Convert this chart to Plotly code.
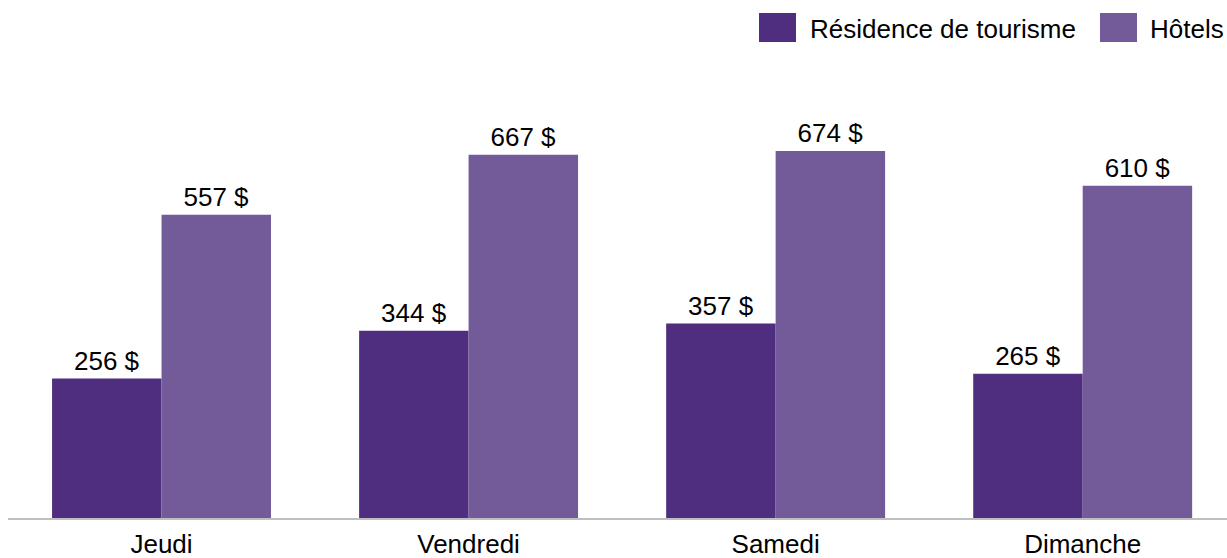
import plotly.graph_objects as go

categories = ["Jeudi", "Vendredi", "Samedi", "Dimanche"]
residence = [256, 344, 357, 265]
hotels = [557, 667, 674, 610]
series_names = ["Résidence de tourisme", "Hôtels"]
colors = ["#4F2D7F", "#735A99"]

FONT = "Liberation Sans, Arial, sans-serif"

PLOT_L = 8
PLOT_T = 80
PLOT_W = 1219
PLOT_H = 438

fig = go.Figure()
for name, vals, col in zip(series_names, [residence, hotels], colors):
    fig.add_trace(go.Bar(
        x=categories, y=vals, name=name,
        marker=dict(color=col, line=dict(width=0)),
        text=[f"{v} $" for v in vals],
        textposition="outside",
        textfont=dict(size=26, color="#000000", family=FONT),
        cliponaxis=False,
        showlegend=False,
    ))

# custom legend (large squares as in reference), page coordinates
legend_items = [(759, 796, 808), (1100, 1137, 1148)]
for (x0, x1, tx), name, col in zip(legend_items, series_names, colors):
    fig.add_shape(type="rect", xref="paper", yref="paper",
                  x0=(x0 - PLOT_L) / PLOT_W, x1=(x1 - PLOT_L) / PLOT_W,
                  y0=(PLOT_T + PLOT_H - 42) / PLOT_H, y1=(PLOT_T + PLOT_H - 13) / PLOT_H,
                  fillcolor=col, line=dict(width=0))
    fig.add_annotation(text=name, xref="paper", yref="paper",
                       x=(tx - PLOT_L) / PLOT_W, y=(PLOT_T + PLOT_H - 29) / PLOT_H,
                       xanchor="left", yanchor="middle", showarrow=False,
                       font=dict(size=26, color="#000000", family=FONT))

fig.update_layout(
    width=1227, height=558,
    margin=dict(l=PLOT_L, r=0, t=PLOT_T, b=558 - PLOT_T - PLOT_H),
    paper_bgcolor="white", plot_bgcolor="white",
    barmode="group", bargap=0.287, bargroupgap=0,
    font=dict(family=FONT, size=26, color="#000000"),
    xaxis=dict(range=[-0.5, 3.47], showline=True, linecolor="#BFBFBF", linewidth=2,
               ticks="", showgrid=False, ticklabelstandoff=2, automargin=False,
               tickfont=dict(size=26, color="#000000")),
    yaxis=dict(range=[0, 804.4], visible=False, showgrid=False),
)

fig.write_html("out.html",
               config={"displayModeBar": False},
               post_script="document.body.style.margin='0';document.body.style.overflow='hidden';")
